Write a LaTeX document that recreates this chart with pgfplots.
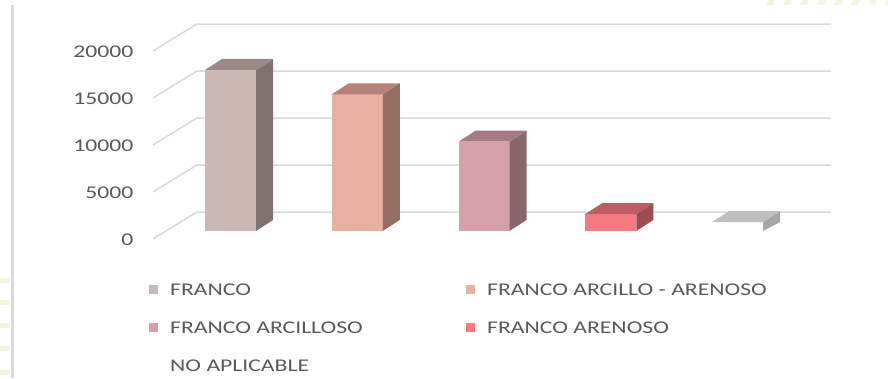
\documentclass[border=0pt]{standalone}
\usepackage{fontspec}
\setmainfont{Carlito}[FakeStretch=1.32]
\usepackage{pgfplots}
\pgfplotsset{compat=1.18}
\definecolor{txt}{HTML}{595959}
\definecolor{gridc}{HTML}{D9D9D9}
\definecolor{deco}{HTML}{F7F3DC}
\definecolor{fAfront}{HTML}{CDB7B5}
\definecolor{fAside}{HTML}{7F7170}
\definecolor{fAtop}{HTML}{9B8A88}
\definecolor{fBfront}{HTML}{E8B0A0}
\definecolor{fBside}{HTML}{936F63}
\definecolor{fBtop}{HTML}{B38477}
\definecolor{fCfront}{HTML}{D6A0AA}
\definecolor{fCside}{HTML}{89656C}
\definecolor{fCtop}{HTML}{A67A82}
\definecolor{fDfront}{HTML}{F67A80}
\definecolor{fDside}{HTML}{9B4C50}
\definecolor{fDtop}{HTML}{BB5D62}
\definecolor{fEside}{HTML}{A6A6A6}
\definecolor{fEtop}{HTML}{C0C0C0}
\begin{document}
\begin{tikzpicture}[x=1bp,y=1bp]
\useasboundingbox (0,0) rectangle (888,378);
% page decorations
\fill[gridc] (10.5,0) rectangle (13.5,373);
\foreach \yy in {278,300,323,346,370} {\fill[deco] (0,378-\yy) rectangle (10,373-\yy);}
\foreach \xx in {766,783,800,817,834,851,868,885} {\fill[deco] (\xx,373) -- (\xx+7,373) -- (\xx+9,378) -- (\xx+2,378) -- cycle;}
\begin{axis}[
  at={(137bp,128bp)}, anchor=south west,
  scale only axis, width=713bp, height=230bp,
  xmin=-0.7377, xmax=4.8876, ymin=-2021, ymax=22447,
  axis line style={draw=none}, tick style={draw=none},
  xtick=\empty,
  ytick={-957,4043,9043,14043,19043},
  yticklabels={0,5000,10000,15000,20000},
  scaled y ticks=false,
  yticklabel style={font=\fontsize{18}{20}\selectfont, text=txt},
  clip=false,
  legend columns=2,
  legend cell align=left,
  legend image code/.code={\fill[#1] (0bp,-4.5bp) rectangle (9bp,4.5bp);},
  legend style={at={(0.01683,-0.1435)}, anchor=north west, draw=none, fill=none,
    inner sep=0pt, row sep=26bp, font=\fontsize{18}{20}\selectfont, text=txt,
    nodes={inner sep=0pt, text height=12bp, text depth=0bp, anchor=west},
    /tikz/every odd column/.append style={column sep=12bp}},
]
% gridlines (floor/back walls)
\addplot[gridc, line width=1.5bp, forget plot] coordinates {(-0.6114,-851) (-0.2643,2021) (4.7377,2021)};
\addplot[gridc, line width=1.5bp, forget plot] coordinates {(-0.6114,4149) (-0.2643,7021) (4.7377,7021)};
\addplot[gridc, line width=1.5bp, forget plot] coordinates {(-0.6114,9149) (-0.2643,12021) (4.7377,12021)};
\addplot[gridc, line width=1.5bp, forget plot] coordinates {(-0.6114,14149) (-0.2643,17021) (4.7377,17021)};
\addplot[gridc, line width=1.5bp, forget plot] coordinates {(-0.6114,19149) (-0.2643,22021) (4.7377,22021)};
% FRANCO
\addplot[ybar, bar width=0.4024, bar shift=0, fill=fAfront, draw=none] coordinates {(0,17130)};
\addlegendentry{\makebox[296bp][l]{FRANCO}}
\addplot[fill=fAside, draw=none, forget plot] coordinates {(0.2012,0) (0.2012,17130) (0.3353,18300) (0.3353,1170)};
\addplot[fill=fAtop, draw=none, forget plot] coordinates {(-0.2012,17130) (0.2012,17130) (0.3353,18300) (-0.0671,18300)};
% FRANCO ARCILLO - ARENOSO
\addplot[ybar, bar width=0.4024, bar shift=0, fill=fBfront, draw=none] coordinates {(1,14540)};
\addlegendentry{FRANCO ARCILLO - ARENOSO}
\addplot[fill=fBside, draw=none, forget plot] coordinates {(1.2012,0) (1.2012,14540) (1.3353,15710) (1.3353,1170)};
\addplot[fill=fBtop, draw=none, forget plot] coordinates {(0.7988,14540) (1.2012,14540) (1.3353,15710) (0.9329,15710)};
% FRANCO ARCILLOSO
\addplot[ybar, bar width=0.4024, bar shift=0, fill=fCfront, draw=none] coordinates {(2,9500)};
\addlegendentry{\makebox[296bp][l]{FRANCO ARCILLOSO}}
\addplot[fill=fCside, draw=none, forget plot] coordinates {(2.2012,0) (2.2012,9500) (2.3353,10670) (2.3353,1170)};
\addplot[fill=fCtop, draw=none, forget plot] coordinates {(1.7988,9500) (2.2012,9500) (2.3353,10670) (1.9329,10670)};
% FRANCO ARENOSO
\addplot[ybar, bar width=0.4024, bar shift=0, fill=fDfront, draw=none] coordinates {(3,1800)};
\addlegendentry{FRANCO ARENOSO}
\addplot[fill=fDside, draw=none, forget plot] coordinates {(3.2012,0) (3.2012,1800) (3.3353,2970) (3.3353,1170)};
\addplot[fill=fDtop, draw=none, forget plot] coordinates {(2.7988,1800) (3.2012,1800) (3.3353,2970) (2.9329,2970)};
% NO APLICABLE (front face white, as in the reference)
\addplot[ybar, bar width=0.4024, bar shift=0, fill=white, draw=none] coordinates {(4,950)};
\addlegendentry{\makebox[296bp][l]{NO APLICABLE}}
\addplot[fill=fEside, draw=none, forget plot] coordinates {(4.2012,0) (4.2012,950) (4.3353,2120) (4.3353,950)};
\addplot[fill=fEtop, draw=none, forget plot] coordinates {(3.7988,950) (4.2012,950) (4.3353,2120) (3.9329,2120)};
\end{axis}
\end{tikzpicture}
\end{document}
